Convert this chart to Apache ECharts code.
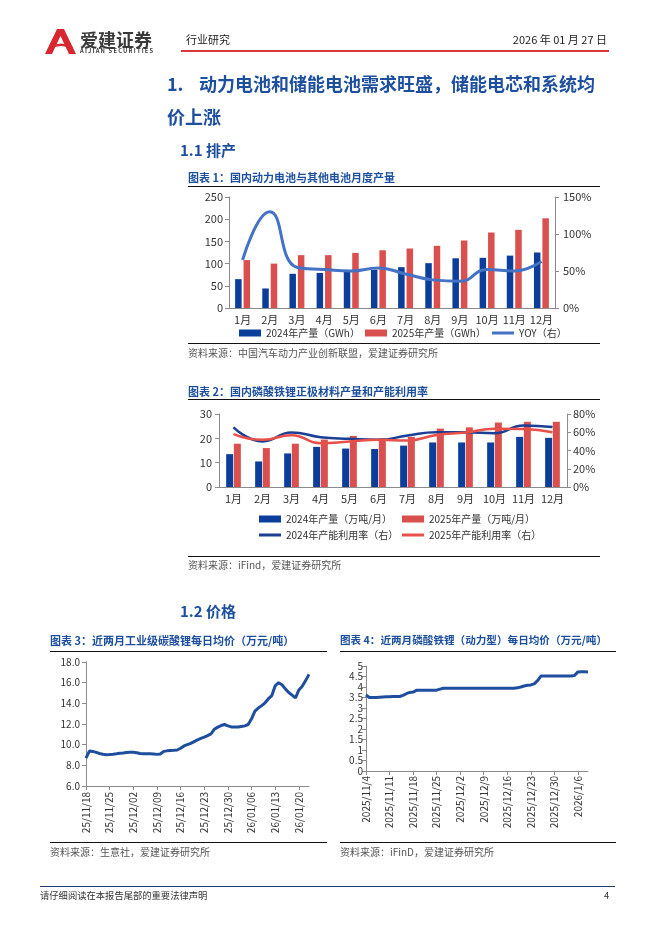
<!DOCTYPE html>
<html><head><meta charset="utf-8">
<script src="https://cdn.jsdelivr.net/npm/echarts@6/dist/echarts.min.js"></script>
<style>
html,body{margin:0;padding:0;background:#fff;}
#page{position:relative;width:662px;height:936px;overflow:hidden;font-family:"Noto Sans CJK SC","Noto Sans",sans-serif;}
#chart{position:absolute;left:0;top:0;width:662px;height:936px;}
.t{position:absolute;white-space:nowrap;line-height:1;}
.h1{font-size:18px;font-weight:bold;color:#1d4f9e;}
.h2{font-size:15px;font-weight:bold;color:#1d4f9e;}
.ct{font-size:11px;font-weight:bold;color:#1d4f9e;}
.src{font-size:10px;color:#555;}
.hr{position:absolute;height:0;}
</style></head>
<body><div id="page">
<div id="chart"></div>
<svg style="position:absolute;left:45px;top:28px" width="32" height="26" viewBox="0 0 32 26">
<path d="M0,26 L12,1 L19,1 L31,26 L24,26 L15.5,8 L7,26 Z" fill="#d7282f"/>
<path d="M4,19 Q16,12 28,19 L27,21 Q16,15 5,21 Z" fill="#d7282f"/>
</svg>
<div class="t" style="left:80px;top:30px;font-size:18px;font-weight:bold;color:#3a3a3a;">爱建证券</div>
<div class="t" style="left:80px;top:48px;font-size:5.8px;font-weight:bold;color:#3a3a3a;letter-spacing:1.2px">AIJIAN SECURITIES</div>
<div class="t" style="left:186px;top:34px;font-size:11px;color:#222">行业研究</div>
<div class="t" style="right:55px;top:34px;font-size:11px;color:#222">2026 年 01 月 27 日</div>
<div class="hr" style="left:181px;top:50px;width:428px;border-top:2.5px solid #d8383f"></div>

<div class="t h1" style="left:167px;top:74px">1.</div>
<div class="t h1" style="left:199px;top:74px">动力电池和储能电池需求旺盛，储能电芯和系统均</div>
<div class="t h1" style="left:167px;top:107px">价上涨</div>
<div class="t h2" style="left:180px;top:142px">1.1</div>
<div class="t h2" style="left:206px;top:142px">排产</div>

<div class="t ct" style="left:188px;top:172px">图表 1：国内动力电池与其他电池月度产量</div>
<div class="hr" style="left:188px;top:186px;width:412px;border-top:1.2px solid #111"></div>
<div class="hr" style="left:188px;top:343px;width:412px;border-top:1px solid #111"></div>
<div class="t src" style="left:188px;top:348px">资料来源：中国汽车动力产业创新联盟，爱建证券研究所</div>

<div class="t ct" style="left:188px;top:386px">图表 2：国内磷酸铁锂正极材料产量和产能利用率</div>
<div class="hr" style="left:188px;top:399px;width:412px;border-top:1.2px solid #111"></div>
<div class="hr" style="left:188px;top:556px;width:412px;border-top:1px solid #111"></div>
<div class="t src" style="left:188px;top:560px">资料来源：iFind，爱建证券研究所</div>

<div class="t h2" style="left:180px;top:603px">1.2</div>
<div class="t h2" style="left:206px;top:603px">价格</div>

<div class="t ct" style="left:50px;top:635px">图表 3：近两月工业级碳酸锂每日均价（万元/吨）</div>
<div class="hr" style="left:50px;top:651px;width:277px;border-top:1.2px solid #111"></div>
<div class="hr" style="left:50px;top:842px;width:277px;border-top:1px solid #111"></div>
<div class="t src" style="left:50px;top:847px">资料来源：生意社，爱建证券研究所</div>

<div class="t ct" style="left:340px;top:635px;font-size:10.6px">图表 4：近两月磷酸铁锂（动力型）每日均价（万元/吨）</div>
<div class="hr" style="left:340px;top:651px;width:276px;border-top:1.2px solid #111"></div>
<div class="hr" style="left:340px;top:842px;width:276px;border-top:1px solid #111"></div>
<div class="t src" style="left:340px;top:847px">资料来源：iFinD，爱建证券研究所</div>

<div class="hr" style="left:40px;top:886px;width:575px;border-top:1.5px solid #1f3a6b"></div>
<div class="t" style="left:40px;top:891px;font-size:9.3px;color:#333">请仔细阅读在本报告尾部的重要法律声明</div>
<div class="t" style="left:604px;top:891px;font-size:9.3px;color:#333">4</div>
</div>
<script>
// ---------- Chart 1 data ----------
const months = ['1月','2月','3月','4月','5月','6月','7月','8月','9月','10月','11月','12月'];
const battery2024 = [65,44,77,79,83,86,92,101,112,113,118,125];
const battery2025 = [108,100,119,119,124,130,134,140,152,170,176,202];
const batteryYoy = [65,130,55,52,50,54,46,38,36,52,50,63];

// ---------- Chart 2 data ----------
const lfp2024 = [13.5,10.5,13.8,16.5,15.8,15.6,17.0,18.3,18.3,18.3,20.6,20.2];
const lfp2025 = [17.8,16.0,17.8,19.5,21.0,20.0,20.6,24.0,24.5,26.5,26.8,26.8];
const util2024 = [65.3,50,59.8,54.6,52.8,51.7,56.5,60,60,59,67.5,65.7];
const util2025 = [58,51.7,56.8,48,49.8,51.7,51,57,59.8,63.8,63.5,60];

// ---------- Chart 3 data (25/11/18 - 26/01/23, daily) ----------
const li2co3Values = [8.70,9.38,9.35,9.25,9.15,9.08,9.03,9.05,9.08,9.12,9.17,9.20,9.24,9.26,9.26,9.22,9.14,9.12,9.12,9.12,9.10,9.06,9.10,9.35,9.40,9.43,9.45,9.48,9.65,9.88,10.00,10.12,10.30,10.47,10.60,10.73,10.88,11.05,11.50,11.70,11.85,11.95,11.82,11.72,11.70,11.70,11.76,11.82,11.95,12.50,13.25,13.55,13.78,14.05,14.45,14.75,15.70,16.00,15.80,15.40,15.05,14.80,14.52,15.30,15.65,16.20,16.80];

// ---------- Chart 4 data (2025/11/4 - 2026/1/9, daily) ----------
const lfpPriceValues = [3.62,3.50,3.50,3.50,3.51,3.52,3.53,3.54,3.55,3.55,3.55,3.60,3.68,3.74,3.76,3.84,3.85,3.85,3.85,3.85,3.85,3.85,3.90,3.94,3.94,3.94,3.94,3.94,3.94,3.94,3.94,3.94,3.94,3.94,3.94,3.94,3.94,3.94,3.94,3.94,3.94,3.94,3.94,3.94,3.94,3.96,4.00,4.05,4.08,4.10,4.15,4.30,4.52,4.52,4.52,4.52,4.52,4.52,4.52,4.52,4.52,4.52,4.55,4.72,4.73,4.73,4.72];

function dayLabels(y, m, d, n, fmt) {
  const out = [];
  const dt = new Date(Date.UTC(y, m - 1, d));
  for (let i = 0; i < n; i++) {
    const yy = dt.getUTCFullYear(), mm = dt.getUTCMonth() + 1, dd = dt.getUTCDate();
    out.push(fmt(yy, mm, dd));
    dt.setUTCDate(dt.getUTCDate() + 1);
  }
  return out;
}
const p2 = v => (v < 10 ? '0' : '') + v;
const li2co3Dates = dayLabels(2025, 11, 18, li2co3Values.length, (y, m, d) => String(y).slice(2) + '/' + p2(m) + '/' + p2(d));
const lfpPriceDates = dayLabels(2025, 11, 4, lfpPriceValues.length, (y, m, d) => y + '/' + m + '/' + d);

// ---------- styles ----------
const BLUE = '#0b3e9b', RED = '#d9504e', YOY = '#4472c4', LINEBLUE = '#1c3f94', LINERED = '#e8514a', PRICE = '#1f4e9f';
const AX = '#8c8c8c', LBL = '#333';
const font = '"Noto Sans CJK SC","Noto Sans",sans-serif';

function valAxis(grid, pos, min, max, interval, fmt, margin, fs) {
  return {
    type: 'value', gridIndex: grid, position: pos, min: min, max: max, interval: interval,
    splitLine: { show: false },
    axisLine: { show: true, lineStyle: { color: AX, width: 1 } },
    axisTick: { show: true, length: 4, lineStyle: { color: AX } },
    axisLabel: { color: LBL, fontSize: fs || 11, margin: margin, formatter: fmt, fontFamily: font }
  };
}
function legendItem(name, left, top, line) {
  return {
    data: [name], left: left, top: top, padding: 0, itemGap: 0,
    itemWidth: 22, itemHeight: line ? 3 : 7, icon: 'rect',
    textStyle: { fontSize: 10, color: LBL, fontFamily: font }, selectedMode: false
  };
}

const chart = echarts.init(document.getElementById('chart'), null, { renderer: 'canvas' });
chart.setOption({
  animation: false,
  textStyle: { fontFamily: font },
  grid: [
    { left: 229, top: 197, width: 326, height: 111 },
    { left: 219, top: 414, width: 348, height: 73 },
    { left: 86, top: 662, width: 223, height: 124 },
    { left: 366, top: 666, width: 222, height: 105 }
  ],
  legend: [
    legendItem('2024年产量（GWh）', 239, 328, false),
    legendItem('2025年产量（GWh）', 365, 328, false),
    legendItem('YOY（右）', 492, 328, true),
    legendItem('2024年产量（万吨/月）', 259, 514, false),
    legendItem('2025年产量（万吨/月）', 402, 514, false),
    legendItem('2024年产能利用率（右）', 259, 530, true),
    legendItem('2025年产能利用率（右）', 402, 530, true)
  ],
  xAxis: [
    { type: 'category', gridIndex: 0, data: months,
      axisLine: { lineStyle: { color: AX } }, axisTick: { length: 4, lineStyle: { color: AX } },
      axisLabel: { color: LBL, fontSize: 11, margin: 6, interval: 0 } },
    { type: 'category', gridIndex: 1, data: months,
      axisLine: { lineStyle: { color: AX } }, axisTick: { length: 4, lineStyle: { color: AX } },
      axisLabel: { color: LBL, fontSize: 11, margin: 6, interval: 0 } },
    { type: 'category', gridIndex: 2, data: li2co3Dates, boundaryGap: false,
      axisLine: { lineStyle: { color: AX } },
      axisTick: { length: 4, interval: 6, alignWithLabel: true, lineStyle: { color: AX } },
      axisLabel: { color: LBL, fontSize: 10, margin: 6, interval: 6, rotate: 90 } },
    { type: 'category', gridIndex: 3, data: lfpPriceDates, boundaryGap: false,
      axisLine: { lineStyle: { color: AX } },
      axisTick: { length: 4, interval: 6, alignWithLabel: true, lineStyle: { color: AX } },
      axisLabel: { color: LBL, fontSize: 10, margin: 5, interval: 6, rotate: 90 } }
  ],
  yAxis: [
    valAxis(0, 'left', 0, 250, 50, '{value}', 6),
    valAxis(0, 'right', 0, 150, 50, '{value}%', 8),
    valAxis(1, 'left', 0, 30, 10, '{value}', 7),
    valAxis(1, 'right', 0, 80, 20, '{value}%', 6),
    valAxis(2, 'left', 6, 18, 2, v => v.toFixed(1), 6, 10),
    valAxis(3, 'left', 0, 5, 0.5, '{value}', 3, 10)
  ],
  series: [
    { name: '2024年产量（GWh）', type: 'bar', xAxisIndex: 0, yAxisIndex: 0, data: battery2024,
      barWidth: 6.5, barGap: '30%', itemStyle: { color: BLUE } },
    { name: '2025年产量（GWh）', type: 'bar', xAxisIndex: 0, yAxisIndex: 0, data: battery2025,
      barWidth: 6.5, barGap: '30%', itemStyle: { color: RED } },
    { name: 'YOY（右）', type: 'line', xAxisIndex: 0, yAxisIndex: 1, data: batteryYoy, smooth: true,
      symbol: 'none', z: 5, lineStyle: { color: YOY, width: 3 }, itemStyle: { color: YOY } },
    { name: '2024年产量（万吨/月）', type: 'bar', xAxisIndex: 1, yAxisIndex: 2, data: lfp2024,
      barWidth: 7, barGap: '10%', itemStyle: { color: BLUE } },
    { name: '2025年产量（万吨/月）', type: 'bar', xAxisIndex: 1, yAxisIndex: 2, data: lfp2025,
      barWidth: 7, barGap: '10%', itemStyle: { color: RED } },
    { name: '2024年产能利用率（右）', type: 'line', xAxisIndex: 1, yAxisIndex: 3, data: util2024, smooth: true,
      symbol: 'none', z: 5, lineStyle: { color: LINEBLUE, width: 2.5 }, itemStyle: { color: LINEBLUE } },
    { name: '2025年产能利用率（右）', type: 'line', xAxisIndex: 1, yAxisIndex: 3, data: util2025, smooth: true,
      symbol: 'none', z: 5, lineStyle: { color: LINERED, width: 2.5 }, itemStyle: { color: LINERED } },
    { name: '碳酸锂', type: 'line', xAxisIndex: 2, yAxisIndex: 4, data: li2co3Values,
      symbol: 'none', lineStyle: { color: PRICE, width: 3 }, itemStyle: { color: PRICE } },
    { name: '磷酸铁锂', type: 'line', xAxisIndex: 3, yAxisIndex: 5, data: lfpPriceValues,
      symbol: 'none', lineStyle: { color: PRICE, width: 3 }, itemStyle: { color: PRICE } }
  ]
});
</script>
</body></html>
